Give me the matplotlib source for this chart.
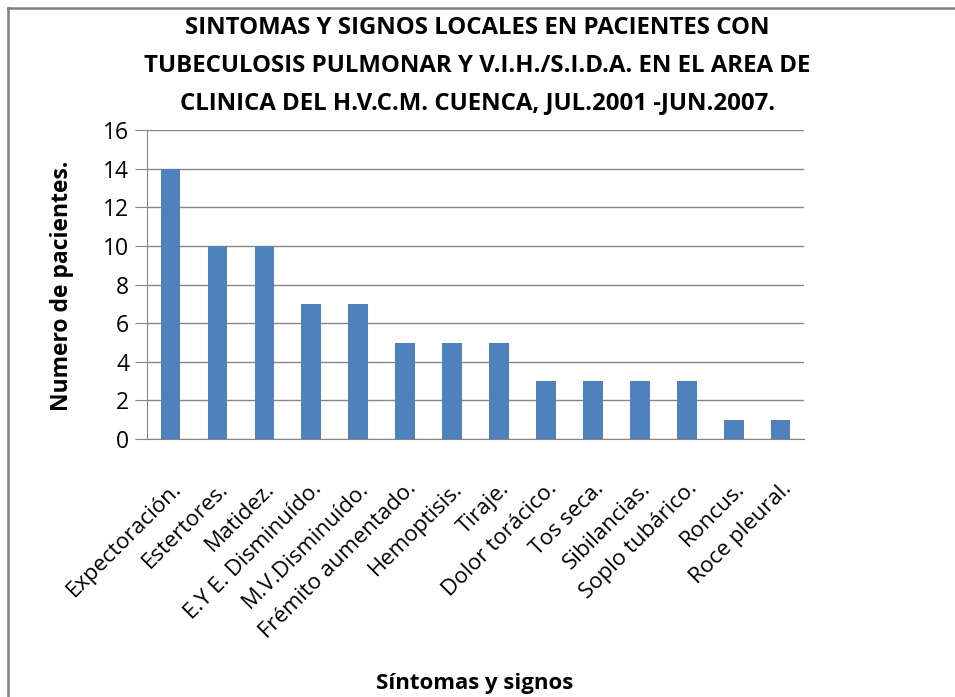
import matplotlib.pyplot as plt
from matplotlib.lines import Line2D

categorias = ['Expectoración.', 'Estertores.', 'Matidez.', 'E.Y E. Disminuído.',
              'M.V.Disminuído.', 'Frémito aumentado.', 'Hemoptisis.', 'Tiraje.',
              'Dolor torácico.', 'Tos seca.', 'Sibilancias.', 'Soplo tubárico.',
              'Roncus.', 'Roce pleural.']
pacientes = [14, 10, 10, 7, 7, 5, 5, 5, 3, 3, 3, 3, 1, 1]
yticks = [0, 2, 4, 6, 8, 10, 12, 14, 16]

titulo = ["SINTOMAS Y SIGNOS LOCALES EN PACIENTES CON",
          "TUBECULOSIS PULMONAR Y V.I.H./S.I.D.A. EN EL AREA DE",
          "CLINICA DEL H.V.C.M. CUENCA, JUL.2001 -JUN.2007."]

plt.rcParams['font.family'] = ['Open Sans', 'DejaVu Sans']

fig = plt.figure(figsize=(9.55, 6.97), dpi=100)
ax = fig.add_axes([0.154, 0.370, 0.688, 0.4435])

x = list(range(len(categorias)))
ax.bar(x, pacientes, width=0.42, color='#4F81BD', zorder=3)
ax.set_xlim(-0.5, len(categorias) - 0.5)
ax.set_ylim(0, 16)
ax.set_yticks(yticks)
ax.tick_params(axis='y', labelsize=16.5, length=9, color='#868686', pad=4)
ax.tick_params(axis='x', length=0, pad=28)
ax.set_xticks(x)
ax.set_xticklabels(categorias, rotation=45, ha='right', rotation_mode='anchor',
                   fontsize=16)
ax.grid(axis='y', color='#868686', linewidth=1, zorder=0)
for s in ['top', 'right']:
    ax.spines[s].set_visible(False)
ax.spines['left'].set_color('#868686')
ax.spines['bottom'].set_color('#868686')

# titulo en tres renglones
for i, linea in enumerate(titulo):
    fig.text(0.50, 1 - (28 + 37.5 * i) / 697, linea, ha='center', va='center',
             fontsize=17.3, fontweight='bold')
fig.text(0.065, 0.59, 'Numero de pacientes.', rotation=90, ha='center',
         va='center', fontsize=16.5, fontweight='bold')
fig.text(0.497, 0.02, 'Síntomas y signos', ha='center', va='center',
         fontsize=16, fontweight='bold')

# marco del grafico
fig.add_artist(Line2D([0.0085, 1.0], [0.989, 0.989], transform=fig.transFigure,
                      color='#808080', linewidth=1.8))
fig.add_artist(Line2D([0.0085, 0.0085], [0.0, 0.989], transform=fig.transFigure,
                      color='#808080', linewidth=1.8))

fig.savefig('out.png', dpi=100)
